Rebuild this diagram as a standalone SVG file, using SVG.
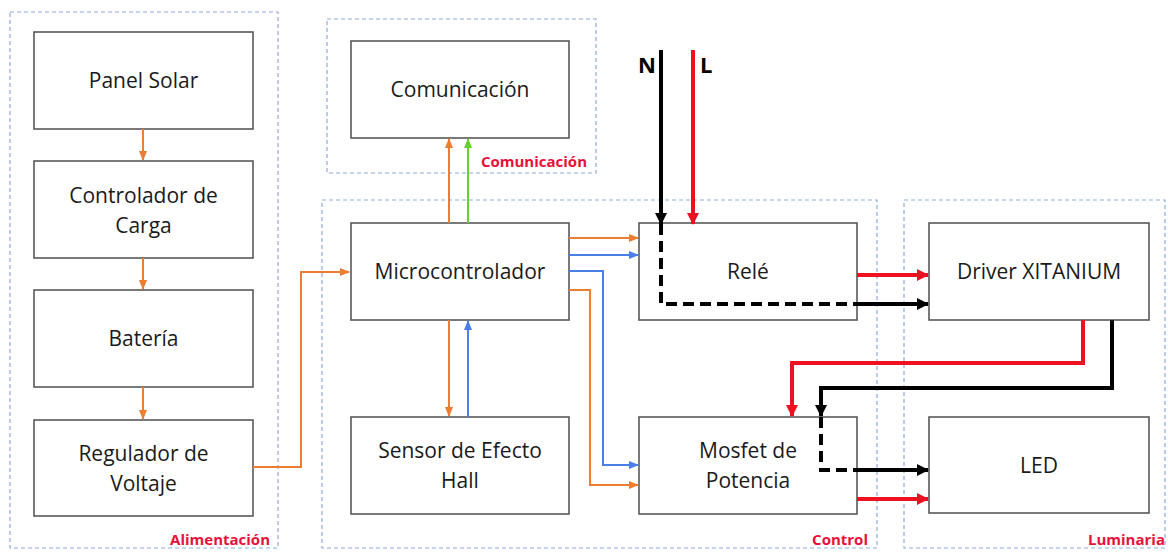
<svg xmlns="http://www.w3.org/2000/svg" width="1168" height="552" viewBox="0 0 1168 552">
<style>
.grp{fill:none;stroke:#8FAADC;stroke-width:1.2;stroke-dasharray:4 3}
.box{fill:#fff;stroke:#595959;stroke-width:1.6}
.lbl{font-family:"Open Sans","Noto Sans",sans-serif;font-size:21px;fill:#1a1a1a;text-anchor:middle}
.glbl{font-family:"Open Sans","Noto Sans",sans-serif;font-size:15px;font-weight:bold;fill:#E8103A;text-anchor:end}
.nl{font-family:"Open Sans","Noto Sans",sans-serif;font-size:22px;font-weight:bold;fill:#000}
.o{fill:none;stroke:#ED7D31;stroke-width:2}
.b{fill:none;stroke:#4A7FE8;stroke-width:2}
.g{fill:none;stroke:#66D02E;stroke-width:2}
.r{fill:none;stroke:#EE1122;stroke-width:4}
.k{fill:none;stroke:#000;stroke-width:4}
.kd{fill:none;stroke:#000;stroke-width:4;stroke-dasharray:11 6}
</style>
<defs>
<marker id="ao" markerWidth="10" markerHeight="8" refX="9" refY="4" orient="auto" markerUnits="userSpaceOnUse"><path d="M0,0L10,4L0,8Z" fill="#ED7D31"/></marker>
<marker id="ab" markerWidth="10" markerHeight="8" refX="9" refY="4" orient="auto" markerUnits="userSpaceOnUse"><path d="M0,0L10,4L0,8Z" fill="#4A7FE8"/></marker>
<marker id="ag" markerWidth="10" markerHeight="8" refX="9" refY="4" orient="auto" markerUnits="userSpaceOnUse"><path d="M0,0L10,4L0,8Z" fill="#66D02E"/></marker>
<marker id="ar" markerWidth="12" markerHeight="12" refX="11" refY="6" orient="auto" markerUnits="userSpaceOnUse"><path d="M0,0L12,6L0,12Z" fill="#EE1122"/></marker>
<marker id="ak" markerWidth="12" markerHeight="12" refX="11" refY="6" orient="auto" markerUnits="userSpaceOnUse"><path d="M0,0L12,6L0,12Z" fill="#000"/></marker>
</defs>
<rect width="1168" height="552" fill="#fff"/>
<g id="groups">
<rect class="grp" x="10" y="12" width="268" height="536"/>
<rect class="grp" x="327" y="19" width="269" height="154"/>
<rect class="grp" x="322" y="200" width="555" height="348"/>
<rect class="grp" x="904" y="200" width="261" height="348"/>
<text class="glbl" x="270" y="545">Alimentación</text>
<text class="glbl" x="587" y="167">Comunicación</text>
<text class="glbl" x="868" y="545">Control</text>
<text class="glbl" x="1165" y="545">Luminaria</text>
</g>
<g id="panel"><rect class="box" x="34" y="32" width="219" height="97"/><text class="lbl" x="143.5" y="88">Panel Solar</text></g>
<g id="controlador"><rect class="box" x="34" y="161" width="219" height="97"/><text class="lbl" x="143.5" y="203">Controlador de</text><text class="lbl" x="143.5" y="233">Carga</text></g>
<g id="bateria"><rect class="box" x="34" y="290" width="219" height="97"/><text class="lbl" x="143.5" y="346">Batería</text></g>
<g id="regulador"><rect class="box" x="34" y="420" width="219" height="96"/><text class="lbl" x="143.5" y="461">Regulador de</text><text class="lbl" x="143.5" y="491">Voltaje</text></g>
<g id="comunicacion"><rect class="box" x="351" y="41" width="218" height="97"/><text class="lbl" x="460" y="97">Comunicación</text></g>
<g id="micro"><rect class="box" x="351" y="223" width="218" height="97"/><text class="lbl" x="460" y="279">Microcontrolador</text></g>
<g id="sensor"><rect class="box" x="351" y="417" width="218" height="97"/><text class="lbl" x="460" y="458">Sensor de Efecto</text><text class="lbl" x="460" y="488">Hall</text></g>
<g id="rele"><rect class="box" x="639" y="223" width="218" height="97"/><text class="lbl" x="748" y="279">Relé</text></g>
<g id="mosfet"><rect class="box" x="639" y="417" width="218" height="97"/><text class="lbl" x="748" y="458">Mosfet de</text><text class="lbl" x="748" y="488">Potencia</text></g>
<g id="driver"><rect class="box" x="929" y="223" width="220" height="97"/><text class="lbl" x="1039" y="279">Driver XITANIUM</text></g>
<g id="led"><rect class="box" x="929" y="417" width="220" height="96"/><text class="lbl" x="1039" y="473">LED</text></g>
<g id="connectors">
<path class="o" d="M143,129V160" marker-end="url(#ao)"/>
<path class="o" d="M143,258V289" marker-end="url(#ao)"/>
<path class="o" d="M143,387V419" marker-end="url(#ao)"/>
<path class="o" d="M253,467H301V272H349" marker-end="url(#ao)"/>
<path class="o" d="M449,223V139" marker-end="url(#ao)"/>
<path class="g" d="M468,223V139" marker-end="url(#ag)"/>
<path class="o" d="M449,320V416" marker-end="url(#ao)"/>
<path class="b" d="M468,417V321" marker-end="url(#ab)"/>
<path class="o" d="M569,238H638" marker-end="url(#ao)"/>
<path class="b" d="M569,255H638" marker-end="url(#ab)"/>
<path class="b" d="M569,271H603V465H638" marker-end="url(#ab)"/>
<path class="o" d="M569,290H590V485H638" marker-end="url(#ao)"/>
<text class="nl" x="638" y="73">N</text>
<text class="nl" x="700" y="73">L</text>
<path class="k" d="M661,50V224" marker-end="url(#ak)"/>
<path class="r" d="M693,50V224" marker-end="url(#ar)"/>
<path class="kd" d="M661,224V304H857"/>
<path class="k" d="M857,304H928" marker-end="url(#ak)"/>
<path class="r" d="M857,275H928" marker-end="url(#ar)"/>
<path class="r" d="M1083,320V363H792V416" marker-end="url(#ar)"/>
<path class="k" d="M1112,320V388H821V416" marker-end="url(#ak)"/>
<path class="kd" d="M821,417V470H857"/>
<path class="k" d="M857,470H928" marker-end="url(#ak)"/>
<path class="r" d="M857,499H928" marker-end="url(#ar)"/>
</g>
</svg>
